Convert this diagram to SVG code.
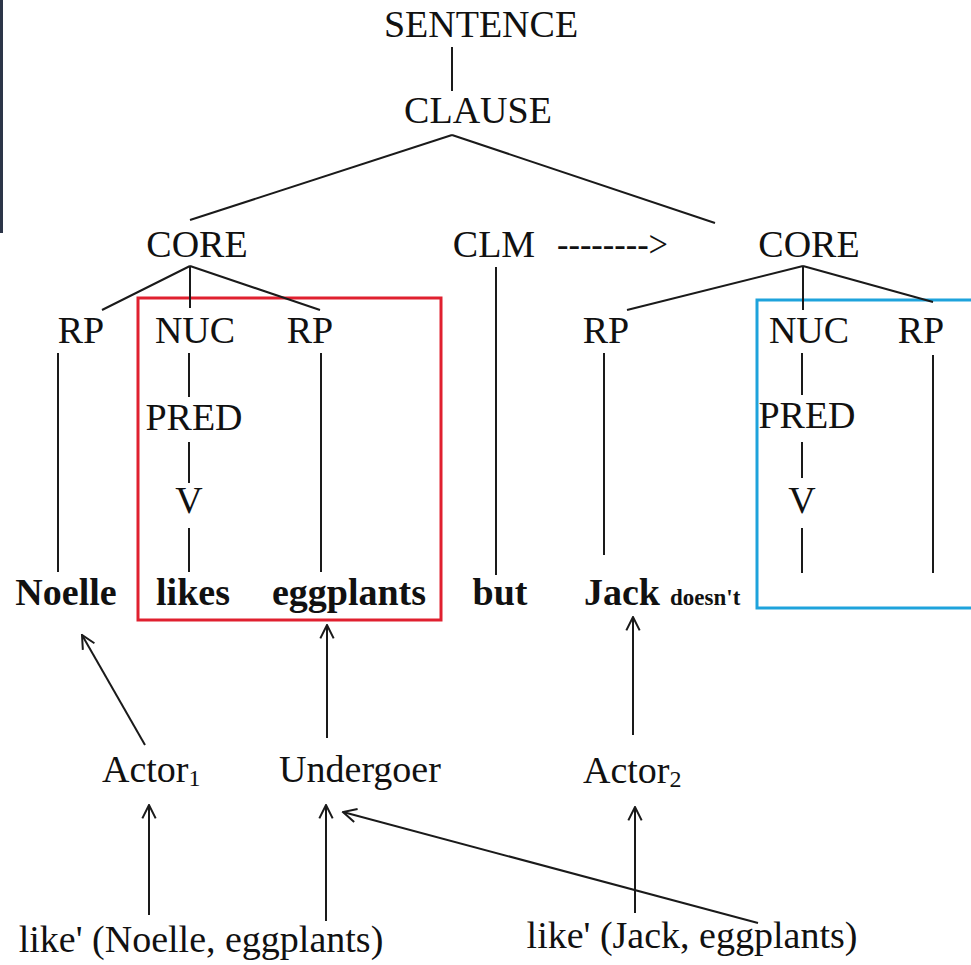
<svg xmlns="http://www.w3.org/2000/svg" width="971" height="965" viewBox="0 0 971 965">
  <style>
    text { font-family: "Liberation Serif", "Times New Roman", serif; fill: #111; }
    .lbl { font-size: 38px; text-anchor: middle; }
    .word { font-size: 38px; font-weight: bold; text-anchor: middle; }
    .small { font-size: 23px; font-weight: bold; }
    .sub { font-size: 24px; }
    .edge { stroke: #1a1a1a; stroke-width: 2; fill: none; }
  </style>
  <defs>
    <marker id="open" viewBox="0 0 12 12" refX="11" refY="6" markerWidth="16" markerHeight="16" markerUnits="userSpaceOnUse" orient="auto">
      <path d="M1,1 L11,6 L1,11" fill="none" stroke="#1a1a1a" stroke-width="1.5"/>
    </marker>
  </defs>

  <rect x="0" y="0" width="3" height="233" fill="#2c3548"/>

  <!-- highlight boxes -->
  <rect id="box-first" x="138" y="298" width="303" height="322" fill="none" stroke="#e0202f" stroke-width="3"/>
  <rect id="box-second" x="757" y="300" width="230" height="308" fill="none" stroke="#1ea3dc" stroke-width="3"/>

  <g id="connectors">
    <line class="edge" x1="452" y1="47" x2="452" y2="91"/>
    <line class="edge" x1="452" y1="135" x2="190" y2="220"/>
    <line class="edge" x1="452" y1="135" x2="715" y2="223"/>
    <!-- left core -->
    <line class="edge" x1="190" y1="266" x2="102" y2="310"/>
    <line class="edge" x1="190" y1="266" x2="190" y2="308"/>
    <line class="edge" x1="190" y1="266" x2="320" y2="310"/>
    <line class="edge" x1="58" y1="353" x2="58" y2="572"/>
    <line class="edge" x1="189" y1="353" x2="189" y2="397"/>
    <line class="edge" x1="189" y1="442" x2="189" y2="483"/>
    <line class="edge" x1="189" y1="528" x2="189" y2="572"/>
    <line class="edge" x1="321" y1="353" x2="321" y2="572"/>
    <!-- clm -->
    <line class="edge" x1="496" y1="267" x2="496" y2="575"/>
    <!-- right core -->
    <line class="edge" x1="803" y1="266" x2="627" y2="310"/>
    <line class="edge" x1="803" y1="266" x2="803" y2="310"/>
    <line class="edge" x1="803" y1="266" x2="933" y2="302"/>
    <line class="edge" x1="604" y1="353" x2="604" y2="555"/>
    <line class="edge" x1="802" y1="353" x2="802" y2="395"/>
    <line class="edge" x1="802" y1="442" x2="802" y2="478"/>
    <line class="edge" x1="802" y1="528" x2="802" y2="573"/>
    <line class="edge" x1="933" y1="355" x2="933" y2="573"/>
    <!-- semantic linking arrows -->
    <line class="edge" x1="145" y1="745" x2="82" y2="635" marker-end="url(#open)"/>
    <line class="edge" x1="327" y1="738" x2="327" y2="625" marker-end="url(#open)"/>
    <line class="edge" x1="633" y1="735" x2="633" y2="617" marker-end="url(#open)"/>
    <line class="edge" x1="149" y1="915" x2="149" y2="805" marker-end="url(#open)"/>
    <line class="edge" x1="326" y1="921" x2="326" y2="805" marker-end="url(#open)"/>
    <line class="edge" x1="635" y1="913" x2="635" y2="807" marker-end="url(#open)"/>
    <line class="edge" x1="758" y1="923" x2="343" y2="812" marker-end="url(#open)"/>
  </g>

  <g id="n-sentence"><text class="lbl" x="481" y="37">SENTENCE</text></g>
  <g id="n-clause"><text class="lbl" x="478" y="123">CLAUSE</text></g>
  <g id="n-core1"><text class="lbl" x="197" y="257">CORE</text></g>
  <g id="n-clm"><text class="lbl" x="494" y="257">CLM</text></g>
  <g id="n-clm-arrow"><text x="557" y="257" font-size="38" textLength="111" lengthAdjust="spacingAndGlyphs">--------&gt;</text></g>
  <g id="n-core2"><text class="lbl" x="809" y="257">CORE</text></g>

  <g id="n-rp1"><text class="lbl" x="81" y="343">RP</text></g>
  <g id="n-nuc1"><text class="lbl" x="195" y="343">NUC</text></g>
  <g id="n-rp2"><text class="lbl" x="310" y="343">RP</text></g>
  <g id="n-rp3"><text class="lbl" x="606" y="343">RP</text></g>
  <g id="n-nuc2"><text class="lbl" x="809" y="343">NUC</text></g>
  <g id="n-rp4"><text class="lbl" x="921" y="343">RP</text></g>

  <g id="n-pred1"><text class="lbl" x="194" y="430">PRED</text></g>
  <g id="n-v1"><text class="lbl" x="189" y="513">V</text></g>
  <g id="n-pred2"><text class="lbl" x="807" y="428">PRED</text></g>
  <g id="n-v2"><text class="lbl" x="802" y="513">V</text></g>

  <g id="w-noelle"><text class="word" x="66" y="605">Noelle</text></g>
  <g id="w-likes"><text class="word" x="193" y="605">likes</text></g>
  <g id="w-eggplants"><text class="word" x="349" y="605">eggplants</text></g>
  <g id="w-but"><text class="word" x="500" y="605">but</text></g>
  <g id="w-jack"><text class="word" x="622" y="605">Jack</text><text class="small" x="670" y="605">doesn't</text></g>

  <g id="r-actor1"><text x="102" y="782" font-size="38">Actor<tspan class="sub" dy="4">1</tspan></text></g>
  <g id="r-undergoer"><text class="lbl" x="360" y="782">Undergoer</text></g>
  <g id="r-actor2"><text x="583" y="783" font-size="38">Actor<tspan class="sub" dy="4">2</tspan></text></g>

  <g id="ls-1"><text class="lbl" x="201" y="952">like' (Noelle, eggplants)</text></g>
  <g id="ls-2"><text class="lbl" x="692" y="948">like' (Jack, eggplants)</text></g>
</svg>
